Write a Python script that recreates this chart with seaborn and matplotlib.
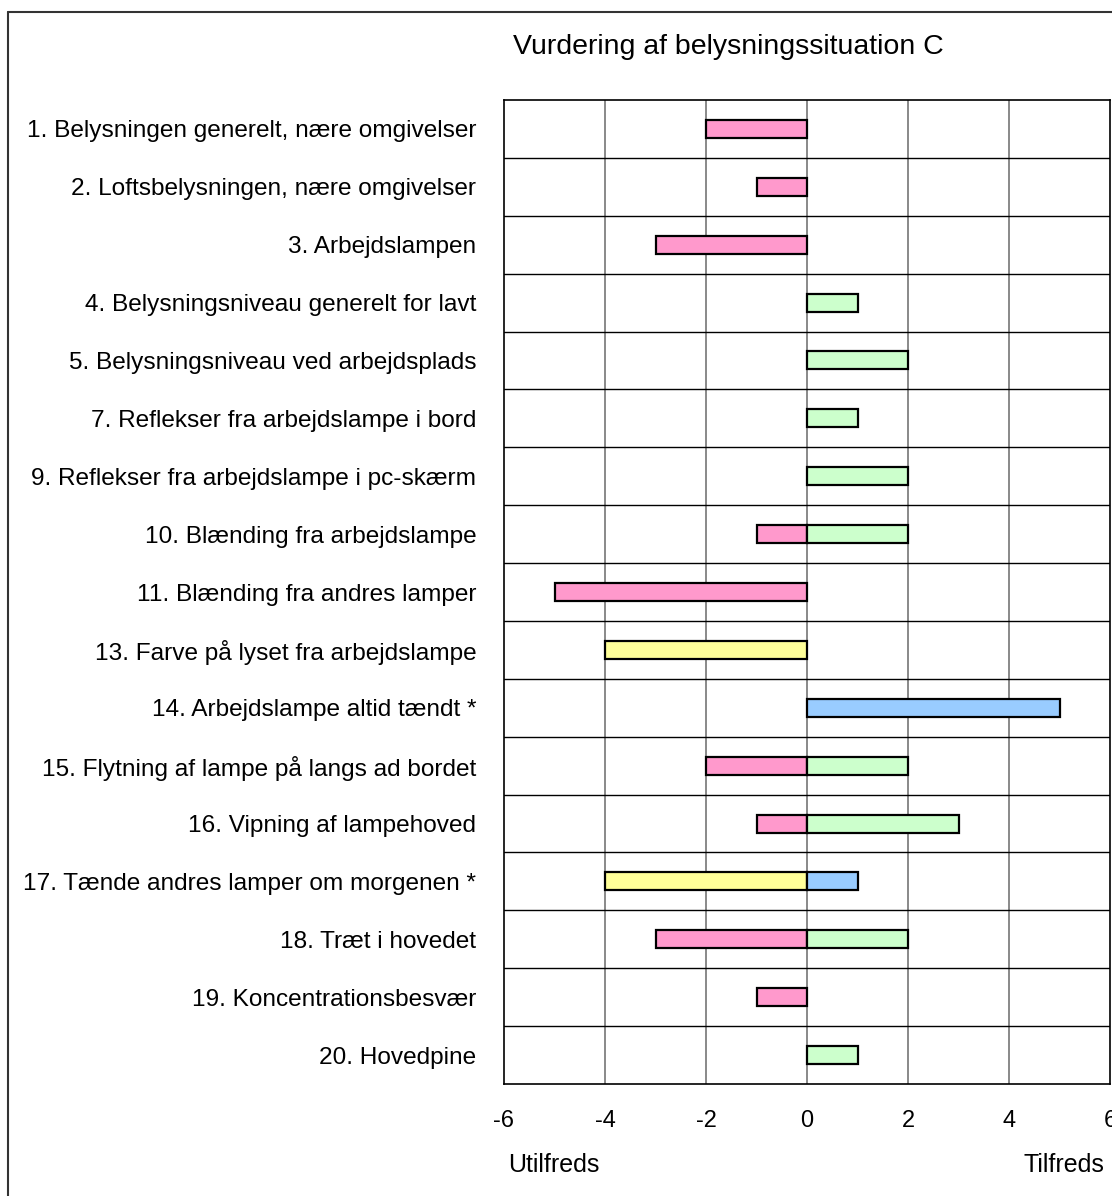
import pandas as pd
import matplotlib
matplotlib.use("Agg")
import matplotlib.pyplot as plt
from matplotlib.lines import Line2D
import seaborn as sns

# Items in the survey (top to bottom)
categories = [
    "1. Belysningen generelt, nære omgivelser",
    "2. Loftsbelysningen, nære omgivelser",
    "3. Arbejdslampen",
    "4. Belysningsniveau generelt for lavt",
    "5. Belysningsniveau ved arbejdsplads",
    "7. Reflekser fra arbejdslampe i bord",
    "9. Reflekser fra arbejdslampe i pc-skærm",
    "10. Blænding fra arbejdslampe",
    "11. Blænding fra andres lamper",
    "13. Farve på lyset fra arbejdslampe",
    "14. Arbejdslampe altid tændt *",
    "15. Flytning af lampe på langs ad bordet",
    "16. Vipning af lampehoved",
    "17. Tænde andres lamper om morgenen *",
    "18. Træt i hovedet",
    "19. Koncentrationsbesvær",
    "20. Hovedpine",
]

# Negative (left) part of each bar and its answer kind
neg_values = [-2, -1, -3, 0, 0, 0, 0, -1, -5, -4, 0, -2, -1, -4, -3, -1, 0]
neg_kind = ["utilfreds", "utilfreds", "utilfreds", None, None, None, None,
            "utilfreds", "utilfreds", "nej", None, "utilfreds", "utilfreds",
            "nej", "utilfreds", "utilfreds", None]

# Positive (right) part of each bar and its answer kind
pos_values = [0, 0, 0, 1, 2, 1, 2, 2, 0, 0, 5, 2, 3, 1, 2, 0, 1]
pos_kind = [None, None, None, "tilfreds", "tilfreds", "tilfreds", "tilfreds",
            "tilfreds", None, None, "ja", "tilfreds", "tilfreds", "ja",
            "tilfreds", None, "tilfreds"]

x_ticks = [-6, -4, -2, 0, 2, 4, 6]

rows = []
for cat, v, k in zip(categories, neg_values, neg_kind):
    if k is not None:
        rows.append({"item": cat, "value": v, "kind": k})
for cat, v, k in zip(categories, pos_values, pos_kind):
    if k is not None:
        rows.append({"item": cat, "value": v, "kind": k})
df = pd.DataFrame(rows)

palette = {"utilfreds": "#FF99CC", "tilfreds": "#CCFFCC",
           "nej": "#FFFF99", "ja": "#99CCFF"}

sns.set_style("white")
plt.rcParams["font.family"] = ["Liberation Sans", "DejaVu Sans"]
plt.rcParams["text.color"] = "black"
plt.rcParams["xtick.color"] = "black"
plt.rcParams["ytick.color"] = "black"

fig = plt.figure(figsize=(11.12, 11.96), dpi=100)
ax = fig.add_axes([504 / 1112, 1 - 1084 / 1196, 606 / 1112, 984 / 1196])

sns.barplot(data=df, x="value", y="item", hue="kind", order=categories,
            hue_order=list(palette), palette=palette, saturation=1, dodge=False,
            width=0.31, edgecolor="black", linewidth=1.6, legend=False,
            orient="h", ax=ax, zorder=3)

ax.set_xlim(-6, 6)
ax.set_ylim(len(categories) - 0.5, -0.5)
ax.set_xticks(x_ticks)
ax.set_xticklabels([str(t) for t in x_ticks], fontsize=17)
ax.tick_params(axis="x", length=0, pad=19)
ax.tick_params(axis="y", length=0, pad=20, labelsize=17.6)
ax.set_xlabel("")
ax.set_ylabel("")

# vertical grid (gray) and row separators (black)
for t in x_ticks[1:-1]:
    ax.axvline(t, color="#808080", linewidth=1.3, zorder=1)
for i in range(len(categories) - 1):
    ax.axhline(i + 0.5, color="black", linewidth=1.0, zorder=1)
for s in ax.spines.values():
    s.set_color("black")
    s.set_linewidth(1.2)
    s.set_visible(True)

fig.text(728 / 1112, 1 - 47 / 1196, "Vurdering af belysningssituation C",
         ha="center", va="center", fontsize=20.5)
fig.text(508 / 1112, 1 - 1165 / 1196, "Utilfreds", ha="left", va="center", fontsize=18)
fig.text(1104 / 1112, 1 - 1165 / 1196, "Tilfreds", ha="right", va="center", fontsize=18)

# outer frame (left and top edges visible)
fig.add_artist(Line2D([8 / 1112, 8 / 1112], [0, 1 - 12 / 1196],
                      transform=fig.transFigure, color="#333333", linewidth=1.5))
fig.add_artist(Line2D([8 / 1112, 1], [1 - 12 / 1196, 1 - 12 / 1196],
                      transform=fig.transFigure, color="#333333", linewidth=1.5))

fig.savefig("out.png", dpi=100)
plt.close(fig)
